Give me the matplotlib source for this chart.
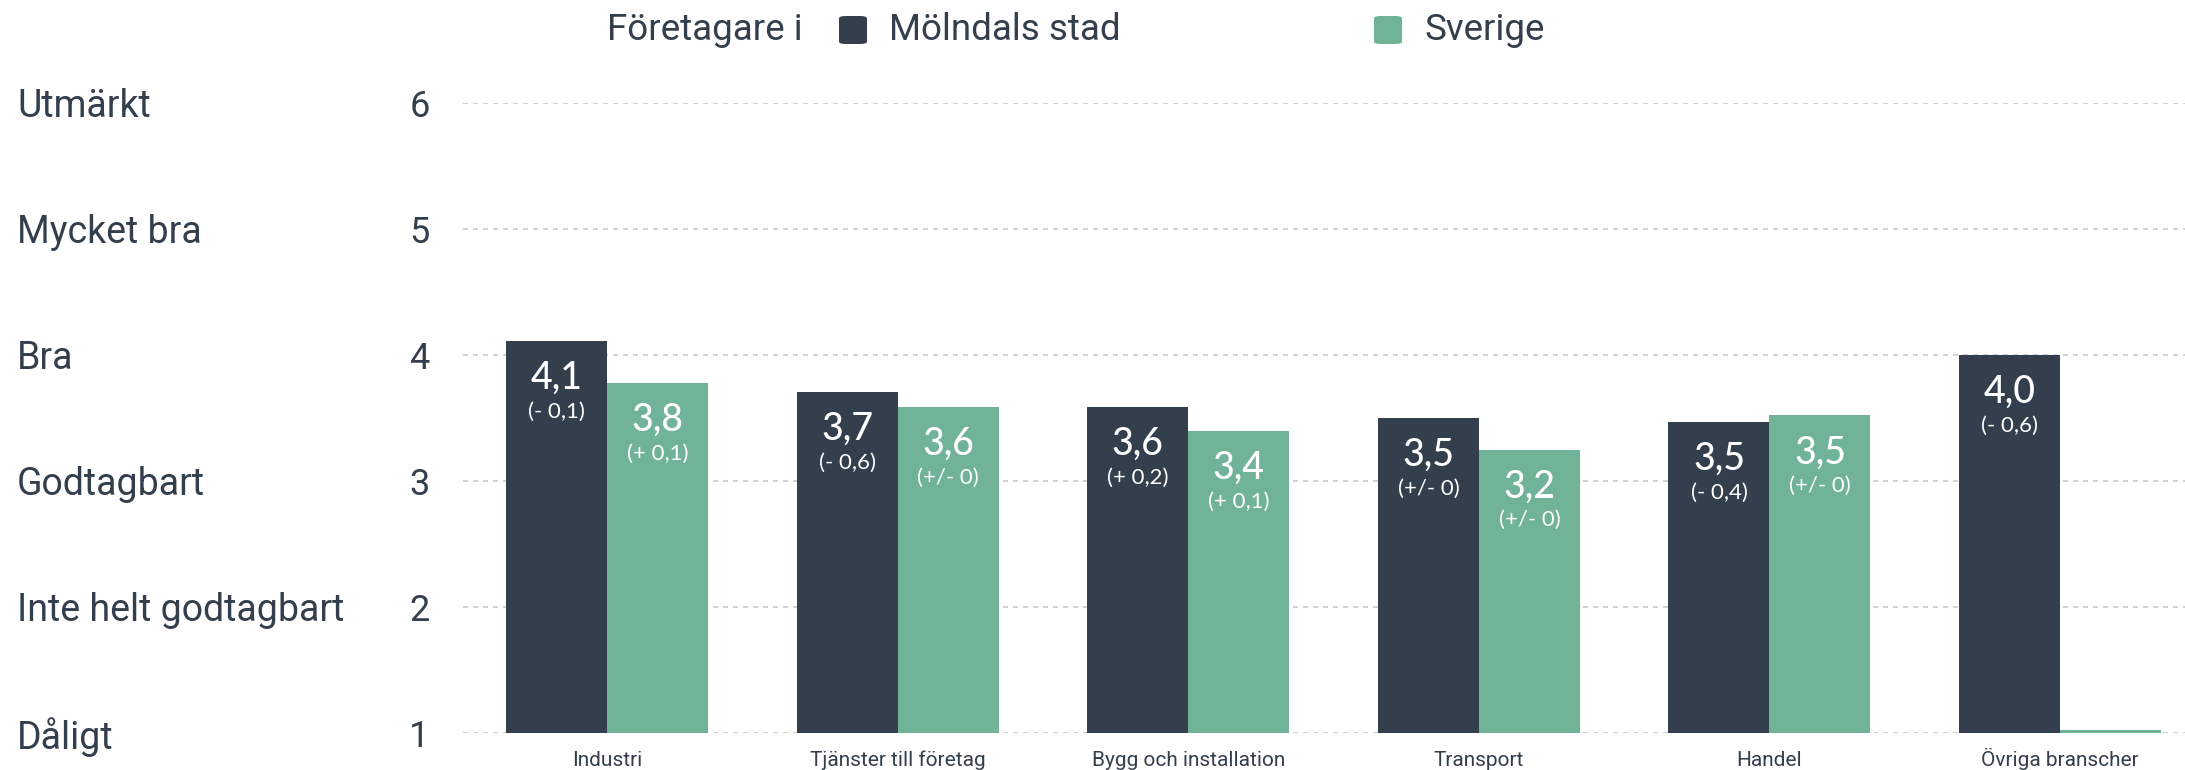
import matplotlib.pyplot as plt
import matplotlib.transforms as mtransforms
from matplotlib.patches import FancyBboxPatch
import numpy as np

# data
categories = ["Industri", "Tjänster till företag", "Bygg och installation",
              "Transport", "Handel", "Övriga branscher"]
ratings = ["Dåligt", "Inte helt godtagbart", "Godtagbart", "Bra", "Mycket bra", "Utmärkt"]
rating_ticks = [1, 2, 3, 4, 5, 6]
series_names = ["Mölndals stad", "Sverige"]
molndal = [4.11, 3.71, 3.59, 3.50, 3.47, 4.00]
sverige = [3.78, 3.59, 3.40, 3.25, 3.52, 1.02]
molndal_labels = ["4,1", "3,7", "3,6", "3,5", "3,5", "4,0"]
molndal_change = ["(- 0,1)", "(- 0,6)", "(+ 0,2)", "(+/- 0)", "(- 0,4)", "(- 0,6)"]
sverige_labels = ["3,8", "3,6", "3,4", "3,2", "3,5", None]
sverige_change = ["(+ 0,1)", "(+/- 0)", "(+ 0,1)", "(+/- 0)", "(+/- 0)", None]

DARK = "#333f4c"
GREEN = "#70b397"
GRID = "#c8c8c8"
NARROW = ["Roboto", "DejaVu Sans"]
LABEL = ["Lato", "DejaVu Sans"]

fig = plt.figure(figsize=(21.85, 7.7), dpi=100)
ax = fig.add_axes([463 / 2185, 1 - 733 / 770, 1 - 463 / 2185, (733 - 103) / 770])

x = np.arange(len(categories))
w = 0.3476
b1 = ax.bar(x - w / 2, molndal, w, color=DARK, zorder=3)
b2 = ax.bar(x + w / 2, sverige, w, color=GREEN, zorder=3)

def label_bars(bars, vals, big, small):
    for rect, v, t1, t2 in zip(bars, vals, big, small):
        if t1 is None:
            continue
        cx = rect.get_x() + rect.get_width() / 2
        ax.annotate(t1, (cx, v), xytext=(0, -27), textcoords="offset points",
                    ha="center", va="center", color="white", fontsize=27,
                    family=LABEL, fontweight="medium", zorder=4)
        ax.annotate(t2, (cx, v), xytext=(0, -51), textcoords="offset points",
                    ha="center", va="center", color="white", fontsize=16,
                    family=LABEL, zorder=4)

label_bars(b1, molndal, molndal_labels, molndal_change)
label_bars(b2, sverige, sverige_labels, sverige_change)

ax.set_ylim(1, 6)
ax.set_xlim(-0.496, 5.43)
ax.set_yticks(rating_ticks)
ax.set_yticklabels([str(t) for t in rating_ticks], family=NARROW, fontsize=26, color=DARK)
ax.set_xticks(x)
ax.set_xticklabels(categories, family=NARROW, fontsize=15, color=DARK)
for lbl in ax.get_xticklabels():
    lbl.set_va("baseline")
ax.tick_params(axis="y", length=0, pad=24)
ax.tick_params(axis="x", length=0, pad=24)
for s in ax.spines.values():
    s.set_visible(False)
ax.yaxis.grid(True, linestyle=(0, (3, 3)), color=GRID, linewidth=1.2, zorder=0)
ax.set_axisbelow(True)

# rating names on the far left
trans = mtransforms.blended_transform_factory(fig.transFigure, ax.transData)
for t, name in zip(rating_ticks, ratings):
    ax.text(17 / 2185, t - 0.03, name, transform=trans, ha="left", va="center",
            family=NARROW, fontsize=27, color=DARK, clip_on=False)

# legend across the top
ly = 1 - 30 / 770
fig.text(607 / 2185, ly, "Företagare i", ha="left", va="center",
         family=NARROW, fontsize=26.5, color=DARK)
for name, col, sx in zip(series_names, [DARK, GREEN], [839, 1374]):
    fig.patches.append(FancyBboxPatch((sx / 2185, ly - 14 / 770), 28 / 2185, 28 / 770,
                                      boxstyle="round,pad=0,rounding_size=0.003",
                                      transform=fig.transFigure, facecolor=col,
                                      edgecolor="none"))
    fig.text((sx + 50) / 2185, ly, name, ha="left", va="center",
             family=NARROW, fontsize=26.5, color=DARK)

fig.savefig("out.png", dpi=100)
